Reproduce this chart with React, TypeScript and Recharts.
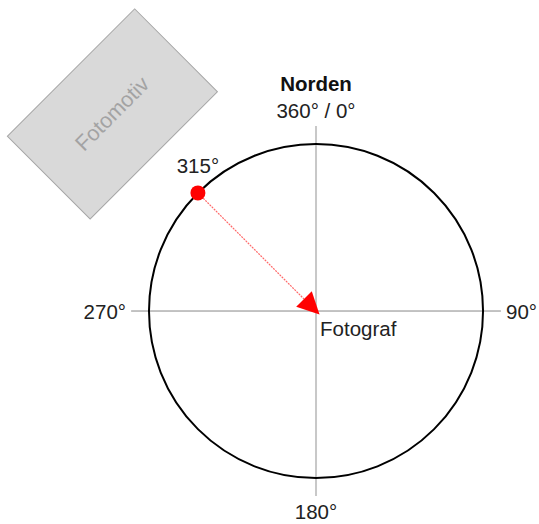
import React from 'react'
import { ScatterChart, Scatter, XAxis, YAxis, ReferenceLine } from 'recharts'

// compass bearings (degrees, clockwise from north) and their labels
const compassBearings = [0, 90, 180, 270]
const compassLabels = ['360° / 0°', '90°', '180°', '270°']
const northLabel = 'Norden'

// direction in which the subject lies, seen from the photographer
const subjectBearing = 315
const subjectBearingLabel = '315°'
const subjectName = 'Fotomotiv'
const photographerName = 'Fotograf'

// where the subject box sits (unit circle = compass ring)
const subjectBox = [{ x: -1.219, y: 1.18, name: subjectName }]

const WIDTH = 539
const HEIGHT = 524
const X_DOMAIN: [number, number] = [-1.892, 1.335]
const Y_DOMAIN: [number, number] = [-1.275, 1.862]
const PX_PER_UNIT = WIDTH / (X_DOMAIN[1] - X_DOMAIN[0])
const RING_PX = PX_PER_UNIT
const AXIS_EXTENT = 1.107
const FONT = '"Liberation Sans", Arial, Helvetica, sans-serif'
const FONT_SIZE = 20.5

const toPoint = (bearing: number) => ({
  x: Math.sin((bearing * Math.PI) / 180),
  y: Math.cos((bearing * Math.PI) / 180),
})

const center = [{ x: 0, y: 0 }]
const compassData = compassBearings.map((b, i) => ({ ...toPoint(b), bearing: b, label: compassLabels[i] }))
const subjectPoint = toPoint(subjectBearing)
const subjectData = [{ ...subjectPoint, label: subjectBearingLabel }]

const RingShape = (props: any) => (
  <circle cx={props.cx} cy={props.cy} r={RING_PX} fill="none" stroke="#000" strokeWidth={2} />
)

const BoxShape = (props: any) => {
  const { cx, cy, payload } = props
  return (
    <g transform={`rotate(-45 ${cx} ${cy})`}>
      <rect x={cx - 90} y={cy - 58.5} width={180} height={117} fill="#d9d9d9" stroke="#a6a6a6" strokeWidth={1} />
      <text x={cx} y={cy} textAnchor="middle" dominantBaseline="central" fontFamily={FONT} fontSize={21.5} fill="#a3a3a3">
        {payload.name}
      </text>
    </g>
  )
}

const CompassLabel = (props: any) => {
  const { cx, cy, payload } = props
  const b = payload.bearing
  const off = b % 180 === 0 ? 33 : 23
  const dx = Math.sin((b * Math.PI) / 180) * off
  const dy = -Math.cos((b * Math.PI) / 180) * off
  const anchor = b === 90 ? 'start' : b === 270 ? 'end' : 'middle'
  return (
    <g>
      <text x={cx + dx} y={cy + dy} textAnchor={anchor} dominantBaseline="central" fontFamily={FONT} fontSize={FONT_SIZE} fill="#222">
        {payload.label}
      </text>
      {b === 0 && (
        <text x={cx} y={cy + dy - 27} textAnchor="middle" dominantBaseline="central" fontFamily={FONT} fontSize={FONT_SIZE} fontWeight="bold" fill="#111">
          {northLabel}
        </text>
      )}
    </g>
  )
}

const SubjectDot = (props: any) => {
  const { cx, cy, payload } = props
  return (
    <g>
      <circle cx={cx} cy={cy} r={7.5} fill="#f00" />
      <text x={cx} y={cy - 27} textAnchor="middle" dominantBaseline="central" fontFamily={FONT} fontSize={FONT_SIZE} fill="#222">
        {payload.label}
      </text>
    </g>
  )
}

const PhotographerLabel = (props: any) => (
  <text x={props.cx + 4} y={props.cy + 17} textAnchor="start" dominantBaseline="central" fontFamily={FONT} fontSize={FONT_SIZE} fill="#222">
    {photographerName}
  </text>
)

const ArrowShape = (props: any) => {
  const { x1, y1, x2, y2 } = props
  const len = Math.hypot(x2 - x1, y2 - y1)
  const ux = (x2 - x1) / len
  const uy = (y2 - y1) / len
  const tipX = x2 + ux * 5
  const tipY = y2 + uy * 5
  const baseX = tipX - ux * 22
  const baseY = tipY - uy * 22
  const hw = 11
  return (
    <g>
      <line x1={x1 + ux * 7.5} y1={y1 + uy * 7.5} x2={baseX} y2={baseY} stroke="#ff6a6a" strokeWidth={1.2} strokeDasharray="2 1" />
      <polygon
        points={`${tipX},${tipY} ${baseX - uy * hw},${baseY + ux * hw} ${baseX + uy * hw},${baseY - ux * hw}`}
        fill="#f00"
      />
    </g>
  )
}

export default function App() {
  return (
    <div style={{ position: 'absolute', left: 0, top: 0, width: WIDTH, height: HEIGHT, background: '#fff' }}>
      <ScatterChart width={WIDTH} height={HEIGHT} margin={{ top: 0, right: 0, bottom: 0, left: 0 }}>
        <XAxis type="number" dataKey="x" domain={X_DOMAIN} allowDataOverflow hide />
        <YAxis type="number" dataKey="y" domain={Y_DOMAIN} allowDataOverflow hide />
        <Scatter data={subjectBox} shape={BoxShape} isAnimationActive={false} />
        <ReferenceLine segment={[{ x: 0, y: -AXIS_EXTENT }, { x: 0, y: AXIS_EXTENT }]} stroke="#c8c8c8" strokeWidth={2} />
        <ReferenceLine segment={[{ x: -AXIS_EXTENT, y: 0 }, { x: AXIS_EXTENT, y: 0 }]} stroke="#888" strokeWidth={1} />
        <Scatter data={center} shape={RingShape} isAnimationActive={false} />
        <ReferenceLine segment={[subjectPoint, { x: 0, y: 0 }]} shape={ArrowShape} />
        <Scatter data={subjectData} shape={SubjectDot} isAnimationActive={false} />
        <Scatter data={compassData} shape={CompassLabel} isAnimationActive={false} />
        <Scatter data={center} shape={PhotographerLabel} isAnimationActive={false} />
      </ScatterChart>
    </div>
  )
}
